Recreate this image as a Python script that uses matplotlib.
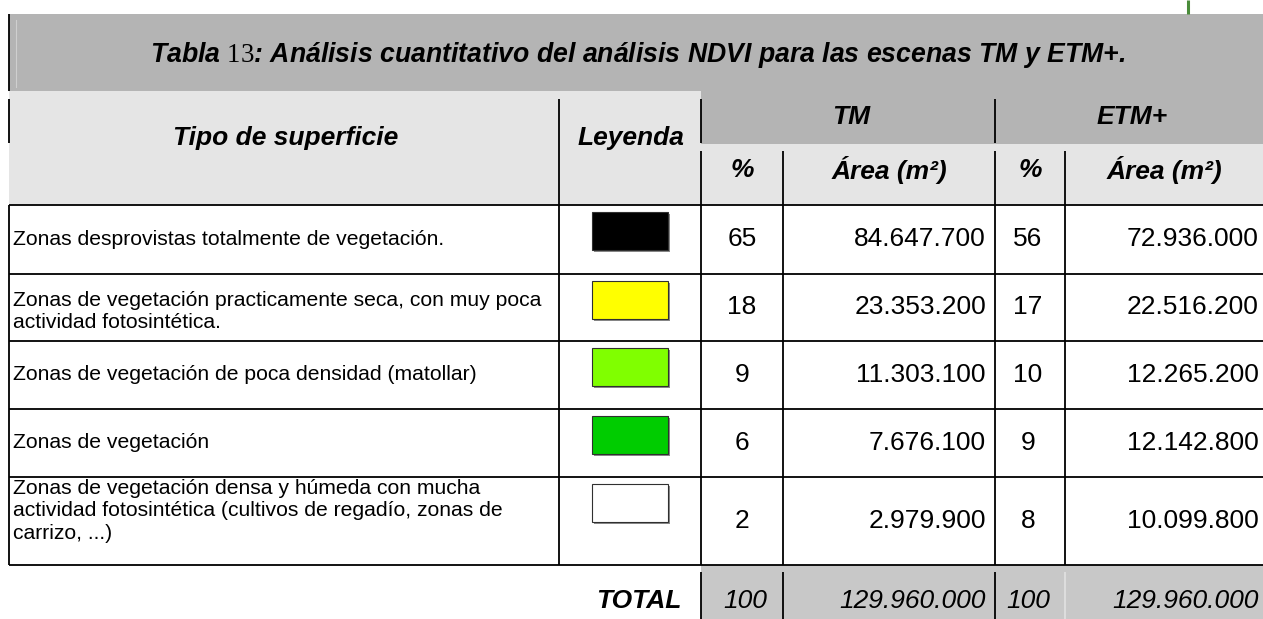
import matplotlib
matplotlib.use("Agg")
import matplotlib.pyplot as plt
from matplotlib.patches import Rectangle

plt.rcParams['font.family'] = ['Liberation Sans', 'DejaVu Sans']
plt.rcParams['mathtext.fontset'] = 'custom'
plt.rcParams['mathtext.rm'] = 'Liberation Serif'
plt.rcParams['mathtext.it'] = 'Liberation Serif:italic'

# ---------------- data ----------------
title = "Tabla $\\mathrm{13}$: Análisis cuantitativo del análisis NDVI para las escenas TM y ETM+."
col_headers = ["Tipo de superficie", "Leyenda"]
groups = ["TM", "ETM+"]
sub_headers = ["%", "Área (m²)"]
categories = [
    "Zonas desprovistas totalmente de vegetación.",
    "Zonas de vegetación practicamente seca, con muy poca\nactividad fotosintética.",
    "Zonas de vegetación de poca densidad (matollar)",
    "Zonas de vegetación",
    "Zonas de vegetación densa y húmeda con mucha\nactividad fotosintética (cultivos de regadío, zonas de\ncarrizo, ...)",
]
legend_colors = ["#000000", "#ffff00", "#80ff00", "#00cc00", "#ffffff"]
tm_pct = [65, 18, 9, 6, 2]
tm_area = [84647700, 23353200, 11303100, 7676100, 2979900]
etm_pct = [56, 17, 10, 9, 8]
etm_area = [72936000, 22516200, 12265200, 12142800, 10099800]
total_label = "TOTAL"

# ---------------- layout ----------------
W, H = 1263, 619
col_x = [9, 559, 701, 783, 995, 1065, 1263]
row_y = [205, 274, 341, 409, 477, 565]
title_top, title_bot = 14, 91
head_split = 144
total_bot = 619

DARK_GRAY = "#b4b4b4"
LIGHT_GRAY = "#e5e5e5"
TOTAL_GRAY = "#c8c8c8"
LW = 1.3
HEAD_FS = 19
BODY_FS = 15.2
NUM_FS = 19


def fmt(v):
    return f"{v:,}".replace(",", ".")


fig = plt.figure(figsize=(W / 100, H / 100), dpi=100)
ax = fig.add_axes([0, 0, 1, 1])
ax.set_xlim(0, W)
ax.set_ylim(H, 0)
ax.axis("off")

# green decoration line top right
ax.plot([1188, 1188], [0, title_top], color="#4a8c3a", lw=2.2, solid_capstyle="butt")

# title band
ax.add_patch(Rectangle((col_x[0], title_top), W - col_x[0], title_bot - title_top,
                       facecolor=DARK_GRAY, edgecolor="none"))
ax.plot([16, 16], [title_top + 6, title_bot - 4], color="#cfcfcf", lw=0.8)
ax.text((col_x[0] + W) / 2 + 2, 55, title, ha="center", va="center",
        fontsize=19.2, fontweight="bold", fontstyle="italic")

# header backgrounds
ax.add_patch(Rectangle((col_x[0], title_bot), col_x[2] - col_x[0], row_y[0] - title_bot,
                       facecolor=LIGHT_GRAY, edgecolor="none"))
ax.add_patch(Rectangle((col_x[2], title_bot), W - col_x[2], head_split - title_bot,
                       facecolor=DARK_GRAY, edgecolor="none"))
ax.add_patch(Rectangle((col_x[2], head_split), W - col_x[2], row_y[0] - head_split,
                       facecolor=LIGHT_GRAY, edgecolor="none"))

hfont = dict(fontsize=HEAD_FS, fontweight="bold", fontstyle="italic", va="center", ha="center")
ax.text((col_x[0] + col_x[1]) / 2 + 2, 138, col_headers[0], **hfont)
ax.text((col_x[1] + col_x[2]) / 2 + 1, 138, col_headers[1], **hfont)
for g, (a, b) in zip(groups, [(col_x[2], col_x[4]), (col_x[4], W)]):
    ax.text((a + b) / 2 + 3, 117, g, **hfont)
for (a, b), s in zip([(col_x[2], col_x[3]), (col_x[3], col_x[4]),
                      (col_x[4], col_x[5]), (col_x[5], W)], sub_headers * 2):
    ax.text((a + b) / 2, 170, s, **hfont)

# total background
ax.add_patch(Rectangle((col_x[2], row_y[-1]), W - col_x[2], total_bot - row_y[-1],
                       facecolor=TOTAL_GRAY, edgecolor="none"))

# ---------------- lines ----------------
for y0, y1 in [(title_top, title_bot), (99, 143), (row_y[0], row_y[-1])]:
    ax.plot([col_x[0], col_x[0]], [y0, y1], color="black", lw=LW, solid_capstyle="butt")
ax.plot([col_x[1], col_x[1]], [99, row_y[-1]], color="black", lw=LW, solid_capstyle="butt")
for cx in [col_x[2], col_x[4]]:
    ax.plot([cx, cx], [99, 143], color="black", lw=LW, solid_capstyle="butt")
for cx in [col_x[2], col_x[3], col_x[4], col_x[5]]:
    ax.plot([cx, cx], [151, row_y[-1]], color="black", lw=LW, solid_capstyle="butt")
for cx in [col_x[2], col_x[3], col_x[4]]:
    ax.plot([cx, cx], [572, total_bot], color="black", lw=LW, solid_capstyle="butt")
ax.plot([col_x[5], col_x[5]], [572, total_bot], color="#e0e0e0", lw=LW, solid_capstyle="butt")
for ry in row_y:
    ax.plot([col_x[0], W], [ry, ry], color="black", lw=LW, solid_capstyle="butt")

# ---------------- body ----------------
for i, cat in enumerate(categories):
    top, bot = row_y[i], row_y[i + 1]
    if i == len(categories) - 1:
        ax.text(13, top + 2, cat, ha="left", va="top", fontsize=BODY_FS, linespacing=1.22)
    else:
        ax.text(13, (top + bot) / 2 + (4 if "\n" in cat else 0), cat, ha="left", va="center",
                fontsize=BODY_FS, linespacing=1.22)
    ax.add_patch(Rectangle((593.5, top + 8.5), 76, 38, facecolor="#8a8a8a", edgecolor="none"))
    ax.add_patch(Rectangle((592, top + 7), 76, 38, facecolor=legend_colors[i],
                           edgecolor="#303030", lw=0.8))
    cy = (top + bot) / 2
    ax.text((col_x[2] + col_x[3]) / 2, cy, str(tm_pct[i]), ha="center", va="center", fontsize=NUM_FS)
    ax.text(col_x[4] - 9, cy, fmt(tm_area[i]), ha="right", va="center", fontsize=NUM_FS)
    ax.text((col_x[4] + col_x[5]) / 2 - 2, cy, str(etm_pct[i]), ha="center", va="center", fontsize=NUM_FS)
    ax.text(W - 4, cy, fmt(etm_area[i]), ha="right", va="center", fontsize=NUM_FS)

# ---------------- totals ----------------
ty = 601
ax.text(col_x[2] - 20, ty, total_label, ha="right", va="center", fontsize=HEAD_FS,
        fontweight="bold", fontstyle="italic")
ax.text((col_x[2] + col_x[3]) / 2 + 3, ty, str(sum(tm_pct)), ha="center", va="center",
        fontsize=NUM_FS, fontstyle="italic")
ax.text(col_x[4] - 9, ty, fmt(sum(tm_area)), ha="right", va="center", fontsize=NUM_FS, fontstyle="italic")
ax.text((col_x[4] + col_x[5]) / 2 - 2, ty, str(sum(etm_pct)), ha="center", va="center",
        fontsize=NUM_FS, fontstyle="italic")
ax.text(W - 4, ty, fmt(sum(etm_area)), ha="right", va="center", fontsize=NUM_FS, fontstyle="italic")

fig.savefig("out.png", dpi=100)
